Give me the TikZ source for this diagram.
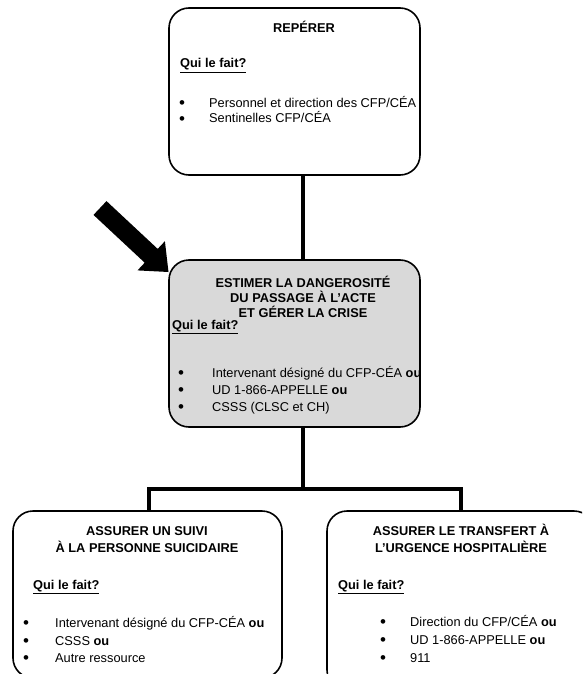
\documentclass[tikz,border=0pt]{standalone}
\usepackage{fontspec}
\setmainfont{Liberation Sans}
\definecolor{boxgray}{HTML}{D9D9D9}
\begin{document}
\begin{tikzpicture}[x=1pt,y=-1pt,
  box/.style={draw=black,line width=1.6pt,rounded corners=20pt},
  txt/.style={inner sep=0pt,anchor=base west,font=\fontsize{12.8}{15}\selectfont},
  ttl/.style={inner sep=0pt,anchor=base,font=\fontsize{12.8}{15}\selectfont\bfseries},
  qui/.style={txt,font=\fontsize{12.8}{15}\selectfont\bfseries},
  bul/.style={inner sep=0pt,anchor=base,yshift=-1.3pt,font=\fontsize{17}{17}\selectfont}]
\useasboundingbox (0,0) rectangle (582,674);
\clip (0,0) rectangle (582,674);
% boxes
\draw[box] (169,8) rectangle (420,175);
\draw[box,fill=boxgray] (169,260) rectangle (420,427);
\draw[box] (13,511) rectangle (282,678);
\draw[box] (327,511) rectangle (594,690);
\coordinate (topB) at (303,175);
\coordinate (midT) at (303,260);
\coordinate (midB) at (303,427);
\coordinate (junc) at (303,489);
\coordinate (lT) at (149,511);
\coordinate (rT) at (461,511);
% connectors
\draw[line width=4.5pt] (topB) -- (midT);
\draw[line width=4.5pt,line join=miter] (midB) -- (junc) -| (lT);
\draw[line width=4.5pt,line join=miter] (junc) -| (rT);
% big arrow
\fill[black] (106.5,201.1) -- (157.7,248.9) -- (164.9,241.2) -- (168.5,272) -- (137.5,270.4) -- (144.7,262.7) -- (93.5,214.9) -- cycle;
% top box text
\node[ttl] (t1) at (304,33) {REPÉRER};
\node[qui] (t2) at (180,68) {\underline{Qui le fait?}};
\node[bul] (t3b) at (182,107) {•};
\node[txt] (t3) at (209,107) {Personnel et direction des CFP/CÉA};
\node[bul] (t4b) at (182,123) {•};
\node[txt] (t4) at (209,123) {Sentinelles CFP/CÉA};
% middle box text
\node[ttl] (m1) at (303,287) {ESTIMER LA DANGEROSITÉ};
\node[ttl] (m2) at (303,302) {DU PASSAGE À L’ACTE};
\node[ttl] (m3) at (303,317) {ET GÉRER LA CRISE};
\node[qui] (m4) at (172,329) {\underline{Qui le fait?}};
\node[bul] (m5b) at (181,377) {•};
\node[txt] (m5) at (212,377) {Intervenant désigné du CFP-CÉA \textbf{ou}};
\node[bul] (m6b) at (181,394) {•};
\node[txt] (m6) at (212,394) {UD 1-866-APPELLE \textbf{ou}};
\node[bul] (m7b) at (181,411) {•};
\node[txt] (m7) at (212,411) {CSSS (CLSC et CH)};
% left bottom box
\node[ttl] (l1) at (147,535) {ASSURER UN SUIVI};
\node[ttl] (l2) at (147,552) {À LA PERSONNE SUICIDAIRE};
\node[qui] (l3) at (33,589) {\underline{Qui le fait?}};
\node[bul] (l4b) at (26,627) {•};
\node[txt] (l4) at (55,627) {Intervenant désigné du CFP-CÉA \textbf{ou}};
\node[bul] (l5b) at (26,645) {•};
\node[txt] (l5) at (55,645) {CSSS \textbf{ou}};
\node[bul] (l6b) at (26,662) {•};
\node[txt] (l6) at (55,662) {Autre ressource};
% right bottom box
\node[ttl] (r1) at (461,535) {ASSURER LE TRANSFERT À};
\node[ttl] (r2) at (461,552) {L’URGENCE HOSPITALIÈRE};
\node[qui] (r3) at (338,589) {\underline{Qui le fait?}};
\node[bul] (r4b) at (383,626) {•};
\node[txt] (r4) at (410,626) {Direction du CFP/CÉA \textbf{ou}};
\node[bul] (r5b) at (383,644) {•};
\node[txt] (r5) at (410,644) {UD 1-866-APPELLE \textbf{ou}};
\node[bul] (r6b) at (383,662) {•};
\node[txt] (r6) at (410,662) {911};
\end{tikzpicture}
\end{document}
